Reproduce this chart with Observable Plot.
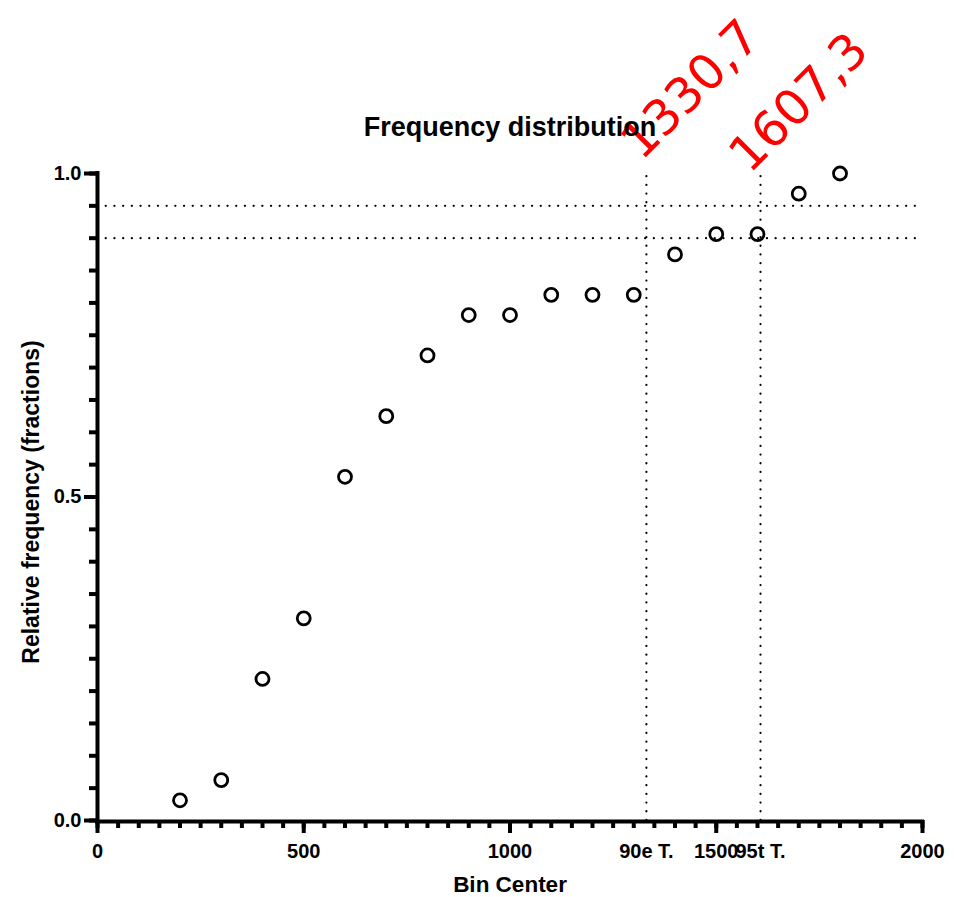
<!DOCTYPE html>
<html>
<head>
<meta charset="utf-8">
<script src="https://cdn.jsdelivr.net/npm/d3@7"></script>
<script src="https://cdn.jsdelivr.net/npm/@observablehq/plot@0.6"></script>
<style>
  body { margin: 0; background: #fff; }
  #chart svg { font-family: "Liberation Sans", Arial, sans-serif; overflow: visible; }
</style>
</head>
<body>
<div id="chart"></div>
<script>
// Cumulative relative frequency per bin
const binCenters = [200, 300, 400, 500, 600, 700, 800, 900, 1000, 1100, 1200, 1300, 1400, 1500, 1600, 1700, 1800];
const relativeFrequency = [0.03125, 0.0625, 0.21875, 0.3125, 0.53125, 0.625, 0.71875, 0.78125, 0.78125,
                           0.8125, 0.8125, 0.8125, 0.875, 0.90625, 0.90625, 0.96875, 1.0];

// Threshold levels (90 % and 95 %) and the bin centers where they are reached
const thresholdLevels = [0.9, 0.95];
const thresholdValues = [1330.7, 1607.3];
const thresholdTickLabels = ["90e T.", "95t T."];
const thresholdValueLabels = ["1330,7", "1607,3"];

// Axis ticks
const xMajorTicks = [0, 500, 1000, 1500, 2000];
const xMinorTicks = d3.range(0, 2001, 50);
const yMajorTicks = [0, 0.5, 1];
const yMinorTicks = d3.range(0, 21).map(i => i / 20);

const titleText = "Frequency distribution";
const xLabel = "Bin Center";
const yLabel = "Relative frequency (fractions)";

const points = binCenters.map((x, i) => ({x, y: relativeFrequency[i]}));

const bold = {fontWeight: "bold", fill: "black"};
const dotted = {stroke: "black", strokeWidth: 2.2, strokeDasharray: "0.1,8.6", strokeLinecap: "round"};

const chart = Plot.plot({
  width: 954,
  height: 897,
  marginTop: 173,
  marginLeft: 97,
  marginRight: 32,
  marginBottom: 77,
  x: {domain: [0, 2000]},
  y: {domain: [0, 1]},
  marks: [
    // dotted threshold guides
    Plot.ruleY(thresholdLevels, {...dotted}),
    Plot.ruleX(thresholdValues, {y1: 0, y2: 1, ...dotted}),

    // minor ticks
    Plot.axisX(xMinorTicks, {tickSize: 8, strokeWidth: 4, tickFormat: () => "", label: null}),
    Plot.axisY(yMinorTicks, {tickSize: 8, strokeWidth: 4, tickFormat: () => "", label: null}),

    // major ticks with labels
    Plot.axisX(xMajorTicks, {tickSize: 13, tickPadding: 10, strokeWidth: 4, fontSize: 20, fontWeight: "bold",
      tickFormat: d => String(d), label: null}),
    Plot.axisY(yMajorTicks, {tickSize: 13, tickPadding: 3, strokeWidth: 4, fontSize: 20, fontWeight: "bold",
      tickFormat: d3.format(".1f"), label: null}),

    // threshold names under the x axis
    Plot.text(thresholdValues, {x: d => d, text: (d, i) => thresholdTickLabels[i], frameAnchor: "bottom",
      lineAnchor: "top", dy: 23, fontSize: 20, ...bold}),

    // axis lines
    Plot.ruleY([0], {strokeWidth: 4, strokeLinecap: "square", dy: 1}),
    Plot.ruleX([0], {strokeWidth: 4, strokeLinecap: "square"}),

    // data points
    Plot.dot(points, {x: "x", y: "y", r: 6.5, stroke: "black", strokeWidth: 2.8, fill: "none"}),

    // threshold values written in red above the plot
    Plot.text([0], {x: () => thresholdValues[0], y: 1, text: () => thresholdValueLabels[0], rotate: -45,
      textAnchor: "start", lineAnchor: "bottom", dx: -5, dy: -12, fontSize: 49, fill: "red",
      fontFamily: "DejaVu Sans"}),
    Plot.text([1], {x: () => thresholdValues[1], y: 1, text: () => thresholdValueLabels[1], rotate: -45,
      textAnchor: "start", lineAnchor: "bottom", dx: -11, dy: 1, fontSize: 49, fill: "red",
      fontFamily: "DejaVu Sans"}),

    // title and axis titles
    Plot.text([titleText], {frameAnchor: "top", lineAnchor: "bottom", dy: -38, fontSize: 27, ...bold}),
    Plot.text([xLabel], {frameAnchor: "bottom", lineAnchor: "bottom", dy: 71, fontSize: 22.5, ...bold}),
    Plot.text([yLabel], {frameAnchor: "left", textAnchor: "middle", rotate: -90, dx: -66, dy: 5,
      fontSize: 23, ...bold})
  ]
});

document.getElementById("chart").append(chart);
</script>
</body>
</html>
